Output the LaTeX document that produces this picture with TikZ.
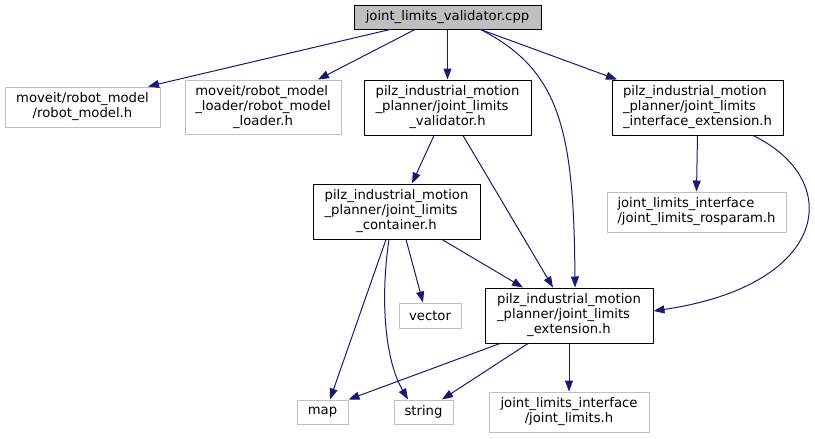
\documentclass[tikz,border=0pt]{standalone}
\usepackage{fontspec}
\setmainfont{DejaVu Sans}
\usetikzlibrary{arrows.meta}
\definecolor{edgeblue}{HTML}{191970}
\definecolor{sysgray}{HTML}{BFBFBF}
\newcommand{\gfont}{\fontsize{9.9pt}{11.25pt}\selectfont}
\newcommand{\nlab}[2]{\begin{tabular}{@{}l@{}}#1\\\multicolumn{1}{@{}c@{}}{#2}\end{tabular}}

\begin{document}
\begin{tikzpicture}[x=0.75pt,y=-0.75pt,
  f/.style={rectangle,inner sep=0pt,line width=0.75pt,font=\gfont,align=center},
  inc/.style={f,draw=black},
  sys/.style={f,draw=sysgray},
  top/.style={f,draw=black,fill=sysgray},
  a/.style={-{Triangle[length=8.25pt,width=6pt]},draw=edgeblue,line width=0.75pt}]

\useasboundingbox (0,0) rectangle (815,439);

% the file itself
\node[top,minimum width=140.25pt,minimum height=18pt] (root) at (447.5,17) {joint\_limits\_validator.cpp};

% rank 1
\node[sys,minimum width=116.25pt,minimum height=30pt] (rm) at (82.5,107) {\nlab{moveit/robot\_model}{/robot\_model.h}};
\node[sys,minimum width=117pt,minimum height=40.5pt] (rml) at (263,107) {\nlab{moveit/robot\_model\\\_loader/robot\_model}{\_loader.h}};
\node[inc,minimum width=125.25pt,minimum height=41.25pt] (val) at (447.5,107.5) {\nlab{pilz\_industrial\_motion\\\_planner/joint\_limits}{\_validator.h}};
\node[inc,minimum width=128.25pt,minimum height=41.25pt] (iext) at (697.5,107.5) {\nlab{pilz\_industrial\_motion\\\_planner/joint\_limits}{\_interface\_extension.h}};

% rank 2
\node[inc,minimum width=125.25pt,minimum height=41.25pt] (cont) at (396.5,211.5) {\nlab{pilz\_industrial\_motion\\\_planner/joint\_limits}{\_container.h}};
\node[sys,minimum width=134.25pt,minimum height=30pt] (ros) at (696.5,212) {\nlab{joint\_limits\_interface}{/joint\_limits\_rosparam.h}};

% rank 3
\node[sys,minimum width=46.5pt,minimum height=18.75pt] (vec) at (430,315.5) {vector};
\node[inc,minimum width=126pt,minimum height=41.25pt] (ext) at (569,315.5) {\nlab{pilz\_industrial\_motion\\\_planner/joint\_limits}{\_extension.h}};

% rank 4
\node[sys,minimum width=38.25pt,minimum height=18pt] (map) at (322.5,412) {map};
\node[sys,minimum width=44.25pt,minimum height=18pt] (str) at (423.5,412) {string};
\node[sys,minimum width=120pt,minimum height=30pt] (jl) at (569,412) {\nlab{joint\_limits\_interface}{/joint\_limits.h}};

% includes of the .cpp
\draw[a] ([xshift=-43.125pt]root.south) -- ([xshift=49.125pt]rm.north);
\draw[a] ([xshift=-24.375pt]root.south) -- ([xshift=41.25pt]rml.north);
\draw[a] (root.south) -- (val.north);
\draw[a] ([xshift=24.75pt]root.south) .. controls (560,70) and (574,130) .. ([xshift=4.5pt]ext.north);
\draw[a] ([xshift=24.75pt]root.south) -- ([xshift=-60.375pt]iext.north);

% validator.h and interface_extension.h
\draw[a] ([xshift=-10.125pt]val.south) -- ([xshift=11.625pt]cont.north);
\draw[a] ([xshift=11.625pt]val.south) -- ([xshift=-12pt]ext.north);
\draw[a] (iext.south) -- (ros.north);
\draw[a] ([xshift=41.625pt]iext.south) .. controls (845,180) and (830,285) .. ([yshift=3.375pt]ext.east);

% container.h
\draw[a] ([xshift=-7.875pt]cont.south) -- ([xshift=5.625pt]map.north);
\draw[a] ([xshift=-5.625pt]cont.south) .. controls (380,300) and (385,360) .. ([xshift=-11.625pt]str.north);
\draw[a] ([xshift=7.125pt]cont.south) -- ([xshift=-5.25pt]vec.north);
\draw[a] ([xshift=34.125pt]cont.south) -- ([xshift=-34.5pt]ext.north);

% extension.h
\draw[a] ([xshift=-51.75pt]ext.south) -- (map.north east);
\draw[a] ([xshift=-30.75pt]ext.south) -- ([xshift=13.875pt]str.north);
\draw[a] (ext.south) -- (jl.north);
\end{tikzpicture}
\end{document}
